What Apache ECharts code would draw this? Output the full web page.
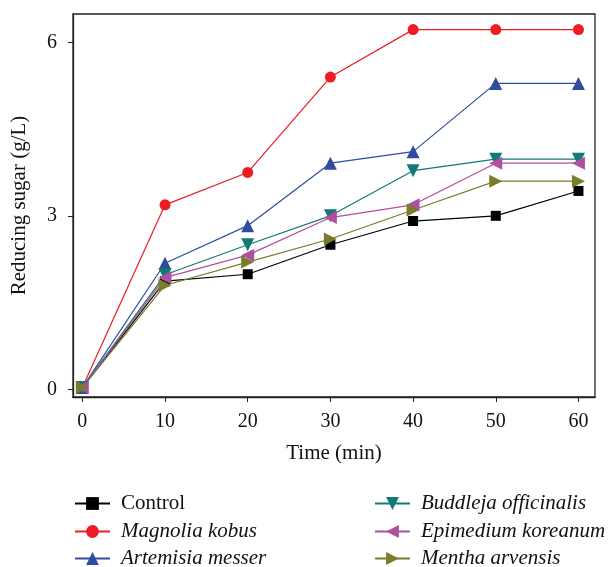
<!DOCTYPE html>
<html>
<head>
<meta charset="utf-8">
<script src="https://cdn.jsdelivr.net/npm/echarts@6/dist/echarts.min.js"></script>
<style>
  html, body { margin: 0; padding: 0; background: #fff; }
  #chart { width: 608px; height: 567px; }
</style>
</head>
<body>
<div id="chart"></div>
<script>
const times = [0, 10, 20, 30, 40, 50, 60];
const xTicks = [0, 10, 20, 30, 40, 50, 60];
const yTicks = [0, 3, 6];

const control = [0.03, 1.87, 1.99, 2.50, 2.91, 3.00, 3.43];
const magnolia = [0.03, 3.19, 3.75, 5.40, 6.22, 6.22, 6.22];
const artemisia = [0.03, 2.18, 2.83, 3.91, 4.11, 5.29, 5.29];
const buddleja = [0.03, 1.98, 2.50, 3.00, 3.78, 3.98, 3.98];
const epimedium = [0.03, 1.93, 2.32, 2.97, 3.19, 3.91, 3.91];
const mentha = [0.03, 1.80, 2.20, 2.60, 3.10, 3.60, 3.60];

const font = '"Liberation Serif", "DejaVu Serif", serif';

const makeSeries = (name, values, color, symbol, size, rotate) => ({
  name: name,
  type: 'line',
  data: times.map((t, i) => [t, values[i]]),
  symbol: symbol,
  symbolSize: size,
  symbolRotate: rotate,
  showSymbol: true,
  animation: false,
  itemStyle: { color: color },
  lineStyle: { color: color, width: 1.2 }
});

const series = [
  makeSeries('Control', control, '#000000', 'rect', 10, 0),
  makeSeries('Magnolia kobus', magnolia, '#ed1c24', 'circle', 11, 0),
  makeSeries('Artemisia messer', artemisia, '#2e4da0', 'triangle', 13, 0),
  makeSeries('Buddleja officinalis', buddleja, '#117a74', 'triangle', 13, 180),
  makeSeries('Epimedium koreanum', epimedium, '#b04f9f', 'triangle', 13, 90),
  makeSeries('Mentha arvensis', mentha, '#7a7c2a', 'triangle', 13, -90)
];

// one legend per entry, two columns of three rows
const legendCols = [74, 374];
const legendRows = [493, 521, 548];

const legends = series.map((s, i) => ({
  left: legendCols[Math.floor(i / 3)],
  top: legendRows[i % 3],
  padding: 0,
  itemWidth: 35,
  itemHeight: 16,
  data: [s.name],
  textStyle: {
    fontFamily: font, fontSize: 21, color: '#111',
    padding: [0, 0, 0, 6],
    fontStyle: s.name === 'Control' ? 'normal' : 'italic'
  }
}));

const chart = echarts.init(document.getElementById('chart'));
chart.setOption({
  backgroundColor: '#fff',
  textStyle: { fontFamily: font },
  grid: {
    left: 73, top: 14, right: 13, bottom: 170,
    outerBoundsMode: 'none',
    containLabel: false,
    show: true, borderColor: '#222', borderWidth: 1.3
  },
  legend: legends,
  xAxis: {
    type: 'value',
    min: -1.13, max: 62,
    name: 'Time (min)',
    nameLocation: 'middle',
    nameGap: 46,
    nameTextStyle: { fontFamily: font, fontSize: 21, color: '#111' },
    splitLine: { show: false },
    axisLine: { show: true, onZero: false, lineStyle: { color: '#222', width: 1.3 } },
    axisTick: { show: true, length: 5, customValues: xTicks, lineStyle: { color: '#222' } },
    axisLabel: { customValues: xTicks, fontFamily: font, fontSize: 20, color: '#111', margin: 15 }
  },
  yAxis: {
    type: 'value',
    min: -0.133, max: 6.49,
    name: 'Reducing sugar (g/L)',
    nameLocation: 'middle',
    nameGap: 43,
    nameTextStyle: { fontFamily: font, fontSize: 21, color: '#111' },
    splitLine: { show: false },
    axisLine: { show: true, onZero: false, lineStyle: { color: '#222', width: 1.3 } },
    axisTick: { show: true, length: 5, customValues: yTicks, lineStyle: { color: '#222' } },
    axisLabel: { customValues: yTicks, fontFamily: font, fontSize: 20, color: '#111', margin: 16 }
  },
  series: series
});
</script>
</body>
</html>
